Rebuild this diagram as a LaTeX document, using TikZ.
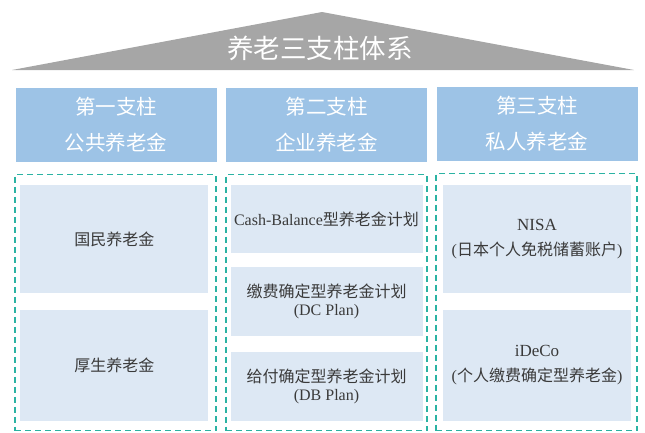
\documentclass[tikz,border=0pt]{standalone}
\usepackage{fontspec}
\setmainfont{Liberation Serif}
\newfontfamily\cjk{Noto Sans CJK SC}
\newcommand{\zh}[1]{{\cjk #1}}
\definecolor{roofgray}{HTML}{A6A6A6}
\definecolor{hdrblue}{HTML}{9DC3E6}
\definecolor{cellblue}{HTML}{DDE8F4}
\definecolor{teal}{HTML}{2BB3A3}
\definecolor{txt}{HTML}{3A3A3A}
\begin{document}
\begin{tikzpicture}[x=1pt,y=-1pt,
  hdr/.style={fill=hdrblue, minimum width=201pt, minimum height=74pt, inner sep=0pt,
    text=white, align=center, font=\cjk\fontsize{20.5}{36}\selectfont},
  group/.style={draw=teal, dashed, dash pattern=on 6pt off 4pt, line width=1.4pt,
    minimum width=201pt, minimum height=256pt, inner sep=0pt},
  cell/.style={fill=cellblue, inner sep=0pt, text=txt, align=center},
  cellw/.style={cell, minimum width=188pt},
  cellm/.style={cell, minimum width=192pt, minimum height=68.5pt}
]
\useasboundingbox (0,0) rectangle (645,432);
% roof
\coordinate (roofL) at (12,70);
\coordinate (roofT) at (322,12);
\coordinate (roofR) at (634,70);
\fill[roofgray] (roofL) -- (roofT) -- (roofR) -- cycle;
\node[text=white, font=\cjk\fontsize{26.5}{26.5}\selectfont] (title) at (320,48) {养老三支柱体系};
% headers
\node[hdr] (h1) at (116,125) {第一支柱\\公共养老金};
\node[hdr] (h2) at (326.5,125) {第二支柱\\企业养老金};
\node[hdr] (h3) at (537,124) {第三支柱\\私人养老金};
% dashed groups
\node[group] (g1) at (115.5,302.5) {};
\node[group] (g2) at (326.5,302.5) {};
\node[group, minimum height=257pt] (g3) at (536.5,302) {};
% column 1
\node[cellw, minimum height=107.7pt, font=\cjk\fontsize{16}{20}\selectfont] (c11) at (114.4,238.9) {国民养老金};
\node[cellw, minimum height=110.7pt, font=\cjk\fontsize{16}{20}\selectfont] (c12) at (114.4,365.4) {厚生养老金};
% column 2
\node[cellm, font=\fontsize{16}{20}\selectfont] (c21) at (326.5,219.2) {Cash-Balance\zh{型养老金计划}};
\node[cellm, font=\fontsize{16}{17.5}\selectfont] (c22) at (326.5,301.5) {\zh{缴费确定型养老金计划}\\(DC Plan)};
\node[cellm, font=\fontsize{16}{17.5}\selectfont] (c23) at (326.5,386.5) {\zh{给付确定型养老金计划}\\(DB Plan)};
% column 3
\node[cellw, minimum height=107.7pt, font=\fontsize{16}{24.5}\selectfont] (c31) at (537,238.9) {\fontsize{17}{24.5}\selectfont NISA\\(\zh{日本个人免税储蓄账户})};
\node[cellw, minimum height=110.7pt, font=\fontsize{16}{25}\selectfont] (c32) at (537,365.4) {\fontsize{17}{25}\selectfont iDeCo\\(\zh{个人缴费确定型养老金})};
\end{tikzpicture}
\end{document}
